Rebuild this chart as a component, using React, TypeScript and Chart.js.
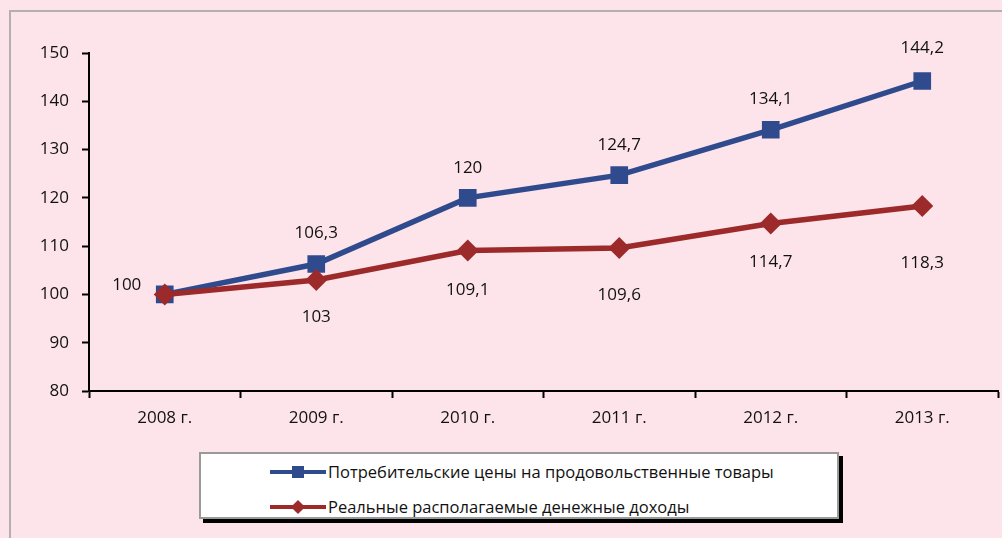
import React, { useEffect, useRef } from "react";
import { Chart, registerables } from "chart.js";

Chart.register(...registerables);

const categories = ["2008 г.", "2009 г.", "2010 г.", "2011 г.", "2012 г.", "2013 г."];
const foodPrices = [100, 106.3, 120, 124.7, 134.1, 144.2];
const realIncome = [100, 103, 109.1, 109.6, 114.7, 118.3];
const foodLabel = "Потребительские цены на продовольственные товары";
const incomeLabel = "Реальные располагаемые денежные доходы";
const yTicks = [80, 90, 100, 110, 120, 130, 140, 150];

const BLUE = "#2f4b8e";
const RED = "#9c2a2a";
const FONT = "'Open Sans', 'DejaVu Sans', sans-serif";

const fmt = (v: number) => String(v).replace(".", ",");

// label offsets (dx, dy) relative to the point
const blueOffsets: [number, number][] = [[-38, -9], [0, -31], [0, -30], [0, -30], [0, -31], [0, -33]];
const redOffsets: [number, number][] = [[-999, 0], [0, 37], [0, 40], [0, 47], [0, 39], [0, 57]];

const labelPlugin = {
  id: "pointLabels",
  afterDatasetsDraw(chart: any) {
    const ctx = chart.ctx;
    ctx.save();
    ctx.font = `17px ${FONT}`;
    ctx.fillStyle = "#111";
    ctx.textAlign = "center";
    ctx.textBaseline = "middle";
    const sets: [number, [number, number][]][] = [[0, blueOffsets], [1, redOffsets]];
    sets.forEach(([di, offs]) => {
      const meta = chart.getDatasetMeta(di);
      const data = chart.data.datasets[di].data as number[];
      meta.data.forEach((pt: any, i: number) => {
        const [dx, dy] = offs[i];
        if (dx < -500) return;
        ctx.fillText(fmt(data[i]), pt.x + dx, pt.y + dy);
      });
    });
    ctx.restore();
  },
};

export default function App() {
  const ref = useRef<HTMLCanvasElement>(null);
  useEffect(() => {
    if (!ref.current) return;
    const chart = new Chart(ref.current, {
      type: "line",
      data: {
        labels: categories,
        datasets: [
          {
            label: foodLabel,
            data: foodPrices,
            borderColor: BLUE,
            backgroundColor: BLUE,
            borderWidth: 5.5,
            pointStyle: "rect",
            pointRadius: 12.5,
            pointBorderWidth: 0,
            tension: 0,
            order: 1,
          },
          {
            label: incomeLabel,
            data: realIncome,
            borderColor: RED,
            backgroundColor: RED,
            borderWidth: 5.5,
            pointStyle: "rectRot",
            pointRadius: 11,
            pointBorderWidth: 0,
            tension: 0,
            order: 0,
          },
        ],
      },
      options: {
        animation: false,
        responsive: false,
        maintainAspectRatio: false,
        layout: { padding: { left: 0, right: 4, top: 53, bottom: 0 }, autoPadding: false },
        plugins: { legend: { display: false }, tooltip: { enabled: false } },
        scales: {
          x: {
            offset: true,
            grid: {
              offset: true,
              display: true,
              drawOnChartArea: false,
              drawTicks: true,
              tickLength: 7,
              tickWidth: 2,
              tickColor: "#000",
            },
            border: { color: "#000", width: 2 },
            ticks: { color: "#111", font: { size: 17, family: FONT }, padding: 10 },
            afterFit: (s: any) => { s.height = 49; s.paddingLeft = 0; s.paddingRight = 0; },
          },
          y: {
            min: 80,
            max: 150,
            afterBuildTicks: (s: any) => { s.ticks = yTicks.map((v) => ({ value: v })); },
            grid: {
              display: true,
              drawOnChartArea: false,
              drawTicks: true,
              tickLength: 7,
              tickWidth: 2,
              tickColor: "#000",
            },
            border: { color: "#000", width: 2 },
            ticks: { color: "#111", font: { size: 17, family: FONT }, padding: 13 },
            afterFit: (s: any) => { s.width = 89; s.paddingTop = 0; s.paddingBottom = 0; },
          },
        },
      },
      plugins: [labelPlugin],
    });
    return () => chart.destroy();
  }, []);

  const legendItem = (color: string, shape: "rect" | "diamond", text: string) => (
    <div style={{ display: "flex", alignItems: "center", height: 35 }}>
      <div style={{ position: "relative", width: 56, height: 14 }}>
        <div style={{ position: "absolute", left: 0, top: 5, width: 56, height: 4, background: color }} />
        <div
          style={{
            position: "absolute",
            left: shape === "rect" ? 22 : 23,
            top: shape === "rect" ? 1 : 2,
            width: shape === "rect" ? 12 : 10,
            height: shape === "rect" ? 12 : 10,
            background: color,
            transform: shape === "diamond" ? "rotate(45deg)" : undefined,
          }}
        />
      </div>
      <span style={{ marginLeft: 2, fontFamily: FONT, fontSize: 16.5, color: "#111" }}>{text}</span>
    </div>
  );

  return (
    <div style={{ position: "fixed", left: 0, top: 0, width: 1002, height: 538, background: "#fde4ea", overflow: "hidden" }}>
      <div style={{ position: "absolute", left: 9, top: 10, width: 1020, height: 560, border: "2px solid #b4b0b2" }} />
      <canvas ref={ref} width={1002} height={440} style={{ position: "absolute", left: 0, top: 0, width: 1002, height: 440 }} />
      <div
        style={{
          position: "absolute",
          left: 199,
          top: 452,
          width: 640,
          height: 67,
          background: "#fff",
          border: "2px solid #9a9a9a",
          boxShadow: "4px 4px 0 #000",
          boxSizing: "border-box",
          paddingLeft: 69,
          paddingTop: 0,
        }}
      >
        {legendItem(BLUE, "rect", foodLabel)}
        {legendItem(RED, "diamond", incomeLabel)}
      </div>
    </div>
  );
}
